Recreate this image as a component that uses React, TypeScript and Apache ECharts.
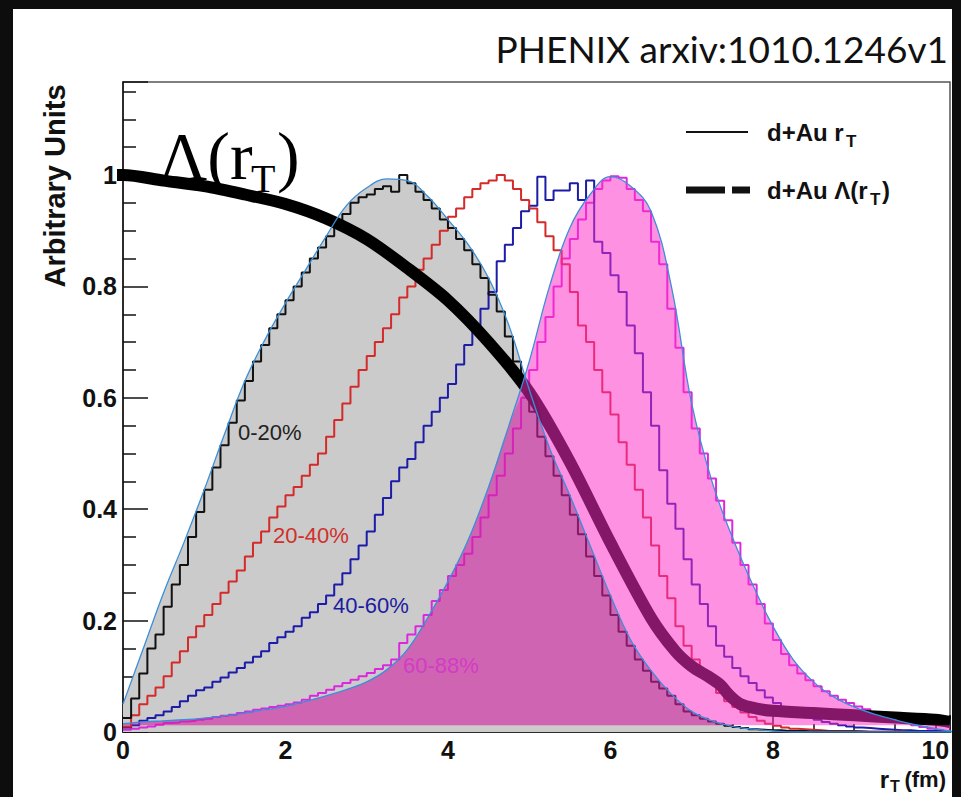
import React, { useEffect, useRef } from 'react';
import * as echarts from 'echarts';

// ---------------- data ----------------
const BIN_WIDTH = 0.1; // fm, histogram bin width (bins start at 0)

// d+Au r_T distributions (step histograms, bins 0.0 ... 10.1)
const HIST_0_20 = [
  0.025, 0.06, 0.105, 0.15, 0.175, 0.225, 0.265, 0.30, 0.35, 0.395,
  0.435, 0.475, 0.515, 0.555, 0.595, 0.63, 0.665, 0.695, 0.725, 0.75,
  0.775, 0.80, 0.825, 0.85, 0.87, 0.89, 0.91, 0.93, 0.95, 0.96,
  0.965, 0.975, 0.98, 0.97, 1.0, 0.985, 0.97, 0.955, 0.94, 0.92,
  0.905, 0.885, 0.865, 0.84, 0.815, 0.785, 0.755, 0.71, 0.665, 0.615,
  0.575, 0.53, 0.495, 0.46, 0.425, 0.39, 0.355, 0.315, 0.28, 0.245,
  0.21, 0.18, 0.155, 0.13, 0.11, 0.09, 0.078, 0.065, 0.05, 0.037,
  0.03, 0.024, 0.019, 0.015, 0.011, 0.009, 0.007, 0.005, 0.004, 0.003,
  0.003, 0.002, 0.002, 0.002, 0.001, 0.001, 0.001, 0.001, 0.001, 0.001,
  0.001, 0, 0, 0, 0, 0, 0, 0, 0, 0,
  0, 0,
];
const HIST_20_40 = [
  0.01, 0.03, 0.05, 0.065, 0.08, 0.10, 0.125, 0.145, 0.17, 0.19,
  0.21, 0.23, 0.25, 0.27, 0.29, 0.315, 0.34, 0.36, 0.385, 0.405,
  0.425, 0.44, 0.46, 0.48, 0.50, 0.53, 0.56, 0.59, 0.62, 0.65,
  0.675, 0.70, 0.725, 0.75, 0.78, 0.80, 0.83, 0.85, 0.875, 0.90,
  0.925, 0.94, 0.96, 0.975, 0.985, 0.99, 1.0, 0.99, 0.975, 0.955,
  0.94, 0.915, 0.89, 0.865, 0.84, 0.79, 0.73, 0.70, 0.65, 0.61,
  0.57, 0.52, 0.48, 0.435, 0.385, 0.335, 0.28, 0.24, 0.19, 0.155,
  0.13, 0.11, 0.09, 0.07, 0.055, 0.045, 0.035, 0.027, 0.02, 0.015,
  0.011, 0.008, 0.006, 0.005, 0.004, 0.003, 0.002, 0.002, 0.002, 0.002,
  0.001, 0.001, 0.001, 0.001, 0.001, 0.001, 0, 0, 0, 0,
  0, 0,
];
const HIST_40_60 = [
  0.008, 0.012, 0.02, 0.025, 0.03, 0.037, 0.045, 0.055, 0.065, 0.075,
  0.08, 0.09, 0.098, 0.107, 0.115, 0.125, 0.135, 0.145, 0.16, 0.17,
  0.18, 0.19, 0.205, 0.215, 0.23, 0.245, 0.265, 0.285, 0.31, 0.335,
  0.36, 0.39, 0.42, 0.45, 0.475, 0.49, 0.52, 0.55, 0.575, 0.60,
  0.625, 0.66, 0.695, 0.73, 0.76, 0.79, 0.845, 0.875, 0.905, 0.935,
  0.945, 0.997, 0.955, 0.972, 0.972, 0.985, 0.955, 0.99, 0.88, 0.86,
  0.82, 0.79, 0.73, 0.68, 0.61, 0.55, 0.47, 0.41, 0.365, 0.31,
  0.265, 0.23, 0.19, 0.155, 0.135, 0.115, 0.10, 0.088, 0.075, 0.062,
  0.052, 0.045, 0.038, 0.032, 0.027, 0.022, 0.018, 0.015, 0.012, 0.01,
  0.008, 0.007, 0.006, 0.005, 0.004, 0.003, 0.003, 0.002, 0.002, 0.002,
  0.001, 0.001,
];
const HIST_60_88 = [
  0.004, 0.006, 0.008, 0.01, 0.013, 0.016, 0.017, 0.019, 0.02, 0.022,
  0.024, 0.027, 0.029, 0.031, 0.034, 0.037, 0.04, 0.042, 0.045, 0.047,
  0.05, 0.053, 0.058, 0.065, 0.07, 0.076, 0.082, 0.088, 0.094, 0.10,
  0.106, 0.113, 0.12, 0.13, 0.16, 0.175, 0.19, 0.21, 0.235, 0.255,
  0.28, 0.30, 0.32, 0.35, 0.385, 0.425, 0.46, 0.50, 0.545, 0.60,
  0.65, 0.70, 0.745, 0.80, 0.85, 0.885, 0.92, 0.95, 0.975, 0.99,
  0.998, 0.995, 0.975, 0.955, 0.935, 0.88, 0.84, 0.76, 0.69, 0.61,
  0.545, 0.50, 0.455, 0.415, 0.38, 0.34, 0.30, 0.265, 0.23, 0.195,
  0.165, 0.14, 0.12, 0.105, 0.093, 0.082, 0.073, 0.065, 0.058, 0.052,
  0.046, 0.041, 0.035, 0.03, 0.025, 0.02, 0.016, 0.012, 0.009, 0.006,
  0.003, 0.001,
];

// smooth envelopes (thin blue curves) of the 0-20% and 60-88% distributions
const FIT_X = [
  0, 0.25, 0.5, 0.75, 1.0, 1.25, 1.5, 1.75, 2.0, 2.25, 2.5, 2.75, 3.0, 3.25,
  3.5, 3.75, 4.0, 4.25, 4.5, 4.75, 5.0, 5.25, 5.5, 5.75, 6.0, 6.25, 6.5, 6.75,
  7.0, 7.25, 7.5, 7.75, 8.0, 8.25, 8.5, 8.75, 9.0, 9.25, 9.5, 9.75, 10.0, 10.25,
];
const FIT_0_20 = [
  0.05, 0.15, 0.25, 0.34, 0.435, 0.535, 0.63, 0.705, 0.77, 0.83, 0.89, 0.945, 0.977, 0.993,
  0.99, 0.962, 0.92, 0.875, 0.815, 0.73, 0.615, 0.51, 0.425, 0.335, 0.245, 0.165, 0.11, 0.068,
  0.037, 0.02, 0.01, 0.005, 0.002, 0, 0, 0, 0, 0, 0, 0, 0, 0,
];
const FIT_60_88 = [
  0.015, 0.018, 0.02, 0.022, 0.025, 0.029, 0.034, 0.04, 0.046, 0.055, 0.065, 0.076, 0.09, 0.112,
  0.148, 0.205, 0.27, 0.345, 0.44, 0.55, 0.665, 0.80, 0.905, 0.965, 0.997, 0.98, 0.935, 0.80,
  0.59, 0.45, 0.35, 0.265, 0.19, 0.13, 0.09, 0.063, 0.045, 0.032, 0.022, 0.013, 0.006, 0.0,
];
const PINK_BASE = 0.012; // bottom edge of the pink band

// d+Au Lambda(r_T)
const LAMBDA_X = [
  -0.15, 0, 0.5, 1.0, 1.5, 2.0, 2.5, 3.0, 3.5, 4.0, 4.5, 5.0, 5.5, 6.0, 6.5,
  6.8, 7.0, 7.2, 7.35, 7.45, 7.6, 7.8, 8.0, 8.5, 9.0, 9.5, 10.0, 10.18,
];
const LAMBDA_Y = [
  1.0, 1.0, 0.99, 0.98, 0.965, 0.948, 0.922, 0.885, 0.833, 0.775, 0.70, 0.61, 0.485, 0.34, 0.205,
  0.145, 0.118, 0.10, 0.085, 0.068, 0.05, 0.042, 0.038, 0.034, 0.03, 0.026, 0.022, 0.018,
];

const X_MIN = 0;
const X_MAX = 10.18;
const X_INTERVAL = 2;
const Y_MIN = 0;
const Y_MAX = 1.167;
const Y_INTERVAL = 0.2;

// ---------------- helpers ----------------
const histData = (vals: number[]) => {
  const pts = vals.map((v, i) => [Math.round(i * BIN_WIDTH * 100) / 100, v]);
  pts.push([Math.round(vals.length * BIN_WIDTH * 100) / 100, vals[vals.length - 1]]);
  return pts;
};
const curve = (ys: number[]) => FIT_X.map((x, i) => [x, ys[i]]);
const overlap = FIT_X.map((x, i) => [x, Math.max(Math.min(FIT_0_20[i], FIT_60_88[i]), PINK_BASE)]);

const SANS = '"Liberation Sans", Arial, Helvetica, sans-serif';
const SERIF = '"Liberation Serif", "Times New Roman", serif';

const histSeries = (name: string, vals: number[], color: string) => ({
  name,
  type: 'line',
  data: histData(vals),
  step: 'end',
  symbol: 'none',
  silent: true,
  lineStyle: { color, width: 2 },
  z: 3,
});

const txt = (x: number, y: number, text: string, o: any = {}) => ({
  type: 'text',
  x,
  y,
  z: 50,
  silent: true,
  rotation: o.rotation || 0,
  style: {
    text,
    fill: o.fill || '#111',
    fontSize: o.size || 20,
    fontFamily: o.family || SANS,
    fontWeight: o.weight || 'normal',
    align: o.align || 'left',
    verticalAlign: 'middle',
  },
});

export default function App() {
  const ref = useRef<HTMLDivElement>(null);
  useEffect(() => {
    document.body.style.margin = '0';
    const chart = echarts.init(ref.current!, null, { renderer: 'svg' });
    const option: any = {
      animation: false,
      backgroundColor: '#ffffff',
      grid: {
        left: 123,
        right: 11,
        top: 82,
        bottom: 65,
        show: true,
        borderColor: '#555',
        borderWidth: 1.5,
        backgroundColor: 'transparent',
      },
      xAxis: {
        type: 'value',
        min: X_MIN,
        max: X_MAX,
        interval: X_INTERVAL,
        axisLine: { show: true, lineStyle: { color: '#111', width: 1.5 } },
        axisTick: { show: true, inside: true, length: 17, lineStyle: { color: '#111', width: 1.5 } },
        minorTick: { show: true, splitNumber: 4, length: 8, lineStyle: { color: '#111', width: 1.5 } },
        axisLabel: {
          show: true,
          showMaxLabel: false,
          margin: 5,
          color: '#111',
          fontSize: 25,
          fontWeight: 'bold',
          fontFamily: SANS,
        },
        splitLine: { show: false },
      },
      yAxis: {
        type: 'value',
        min: Y_MIN,
        max: Y_MAX,
        interval: Y_INTERVAL,
        axisLine: { show: true, lineStyle: { color: '#111', width: 1.5 } },
        axisTick: { show: true, inside: true, length: 25, lineStyle: { color: '#111', width: 1.5 } },
        minorTick: { show: true, splitNumber: 4, length: 13, lineStyle: { color: '#111', width: 1.5 } },
        axisLabel: {
          show: true,
          showMaxLabel: false,
          margin: 6,
          color: '#111',
          fontSize: 25,
          fontWeight: 'bold',
          fontFamily: SANS,
        },
        splitLine: { show: false },
      },
      series: [
        {
          name: '0-20% envelope area',
          type: 'line',
          data: curve(FIT_0_20),
          smooth: 0.4,
          symbol: 'none',
          silent: true,
          lineStyle: { opacity: 0, width: 0 },
          areaStyle: { color: '#cbcbcb', opacity: 1 },
          z: 1,
        },
        histSeries('60-88%', HIST_60_88, '#dc28dc'),
        histSeries('40-60%', HIST_40_60, '#1c1ca8'),
        histSeries('20-40%', HIST_20_40, '#d42a2a'),
        histSeries('0-20%', HIST_0_20, '#111111'),
        {
          name: 'd+Au Λ(rT)',
          type: 'line',
          data: LAMBDA_X.map((x, i) => [x, LAMBDA_Y[i]]),
          smooth: 0.3,
          symbol: 'none',
          silent: true,
          clip: false,
          lineStyle: { color: '#000', width: 12, cap: 'butt', join: 'round' },
          z: 4,
        },
        {
          name: '60-88% envelope area',
          type: 'line',
          data: curve(FIT_60_88),
          smooth: 0.4,
          symbol: 'none',
          silent: true,
          lineStyle: { opacity: 0, width: 0 },
          areaStyle: { color: 'rgba(255,45,200,0.52)', opacity: 1, origin: PINK_BASE },
          z: 5,
        },
        {
          name: 'overlap',
          type: 'line',
          data: overlap,
          smooth: 0.4,
          symbol: 'none',
          silent: true,
          lineStyle: { opacity: 0, width: 0 },
          areaStyle: { color: 'rgba(90,0,60,0.16)', opacity: 1, origin: PINK_BASE },
          z: 6,
        },
        {
          name: '0-20% envelope',
          type: 'line',
          data: curve(FIT_0_20),
          smooth: 0.4,
          symbol: 'none',
          silent: true,
          lineStyle: { color: '#3b8fd9', width: 1.3 },
          z: 7,
        },
        {
          name: '60-88% envelope',
          type: 'line',
          data: curve(FIT_60_88),
          smooth: 0.4,
          symbol: 'none',
          silent: true,
          lineStyle: { color: '#3b8fd9', width: 1.3 },
          z: 7,
        },
      ],
      graphic: [
        txt(948, 48, 'PHENIX arxiv:1010.1246v1', { size: 37, family: 'Lato, "Open Sans", sans-serif', align: 'right', fill: '#111' }),
        // big Lambda(r_T) annotation
        txt(158, 156, 'Λ(r', { size: 68, family: SERIF, fill: '#000' }),
        txt(251, 178, 'T', { size: 40, family: SERIF, fill: '#000' }),
        txt(277, 156, ')', { size: 68, family: SERIF, fill: '#000' }),
        // legend
        { type: 'line', z: 50, silent: true, shape: { x1: 686, y1: 132, x2: 748, y2: 132 }, style: { stroke: '#111', lineWidth: 2 } },
        txt(767, 132, 'd+Au r', { size: 24, weight: 'bold' }),
        txt(846, 141, 'T', { size: 17, weight: 'bold' }),
        { type: 'line', z: 50, silent: true, shape: { x1: 686, y1: 190, x2: 725, y2: 190 }, style: { stroke: '#111', lineWidth: 7 } },
        { type: 'line', z: 50, silent: true, shape: { x1: 732, y1: 190, x2: 750, y2: 190 }, style: { stroke: '#111', lineWidth: 7 } },
        txt(767, 190, 'd+Au Λ(r', { size: 24, weight: 'bold' }),
        txt(870, 199, 'T', { size: 17, weight: 'bold' }),
        txt(882, 190, ')', { size: 24, weight: 'bold' }),
        // centrality labels
        txt(238, 432, '0-20%', { size: 22, fill: '#222' }),
        txt(273, 535, '20-40%', { size: 22, fill: '#d0302a' }),
        txt(333, 605, '40-60%', { size: 22, fill: '#1c1ca0' }),
        txt(403, 665, '60-88%', { size: 22, fill: '#d23cc4' }),
        // axis titles
        txt(55, 186, 'Arbitrary Units', { size: 29, weight: 'bold', align: 'center', rotation: Math.PI / 2 }),
        txt(889, 779, 'r', { size: 24, weight: 'bold', align: 'right' }),
        txt(890, 786, 'T', { size: 16, weight: 'bold' }),
        txt(946, 779, '(fm)', { size: 22, weight: 'bold', align: 'right' }),
      ],
    };
    chart.setOption(option);
    return () => chart.dispose();
  }, []);

  const band = { position: 'absolute' as const, background: '#0d0d0d' };
  return (
    <div style={{ position: 'relative', width: 961, height: 797, overflow: 'hidden' }}>
      <div ref={ref} style={{ position: 'absolute', left: 0, top: 0, width: 961, height: 797 }} />
      <div style={{ ...band, left: 0, top: 0, width: 13, height: 797 }} />
      <div style={{ ...band, left: 0, top: 0, width: 961, height: 9 }} />
      <div style={{ ...band, left: 952, top: 0, width: 9, height: 797 }} />
    </div>
  );
}
